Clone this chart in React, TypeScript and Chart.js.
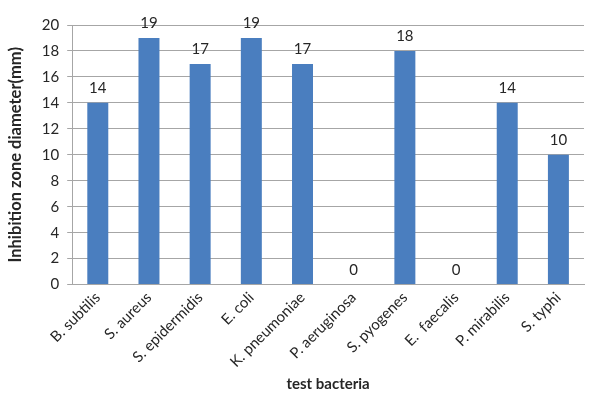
import React, { useEffect, useRef } from "react";
import { Chart, registerables } from "chart.js";

Chart.register(...registerables);

const categories = [
  "B. subtilis",
  "S. aureus",
  "S. epidermidis",
  "E. coli",
  "K. pneumoniae",
  "P. aeruginosa",
  "S. pyogenes",
  "E.  faecalis",
  "P. mirabilis",
  "S. typhi",
];
const zoneValues = [14, 19, 17, 19, 17, 0, 18, 0, 14, 10];

const FONT = "Lato, 'Open Sans', sans-serif";

const valueLabels = {
  id: "valueLabels",
  afterDatasetsDraw(chart: any) {
    const ctx = chart.ctx;
    const meta = chart.getDatasetMeta(0);
    ctx.save();
    ctx.font = `15px ${FONT}`;
    ctx.fillStyle = "#262626";
    ctx.textAlign = "center";
    ctx.textBaseline = "bottom";
    meta.data.forEach((bar: any, i: number) => {
      ctx.fillText(String(zoneValues[i]), bar.x, bar.y - 7);
    });
    ctx.restore();
  },
};

export default function App() {
  const ref = useRef<HTMLCanvasElement>(null);
  useEffect(() => {
    document.body.style.margin = "0";
    const chart = new Chart(ref.current!, {
      type: "bar",
      data: {
        labels: categories,
        datasets: [
          {
            data: zoneValues,
            backgroundColor: "#4A7EBF",
            barPercentage: 0.82,
            categoryPercentage: 0.5,
          },
        ],
      },
      options: {
        animation: false,
        responsive: false,
        layout: { padding: { top: 25, right: 9, left: 6, bottom: 0 } },
        plugins: { legend: { display: false }, tooltip: { enabled: false } },
        scales: {
          x: {
            grid: { display: false, drawTicks: false },
            border: { color: "#A6A6A6" },
            ticks: {
              font: { family: FONT, size: 15 },
              color: "#262626",
              maxRotation: 45,
              minRotation: 45,
              padding: 4,
              autoSkip: false,
            },
            title: {
              display: true,
              text: "test bacteria",
              font: { family: FONT, size: 15, weight: "bold" },
              color: "#262626",
              padding: { top: 0, bottom: 1 },
            },
          },
          y: {
            min: 0,
            max: 20,
            ticks: {
              stepSize: 2,
              font: { family: FONT, size: 15 },
              color: "#262626",
              padding: 8,
            },
            grid: { color: "#A6A6A6", tickLength: 5 },
            border: { color: "#A6A6A6" },
            title: {
              display: true,
              text: "Inhibition zone diameter(mm)",
              font: { family: FONT, size: 16.5, weight: "bold" },
              color: "#262626",
              padding: { top: 0, bottom: 8 },
            },
          },
        },
      },
      plugins: [valueLabels],
    });
    return () => chart.destroy();
  }, []);
  return <canvas ref={ref} width={593} height={394} />;
}
